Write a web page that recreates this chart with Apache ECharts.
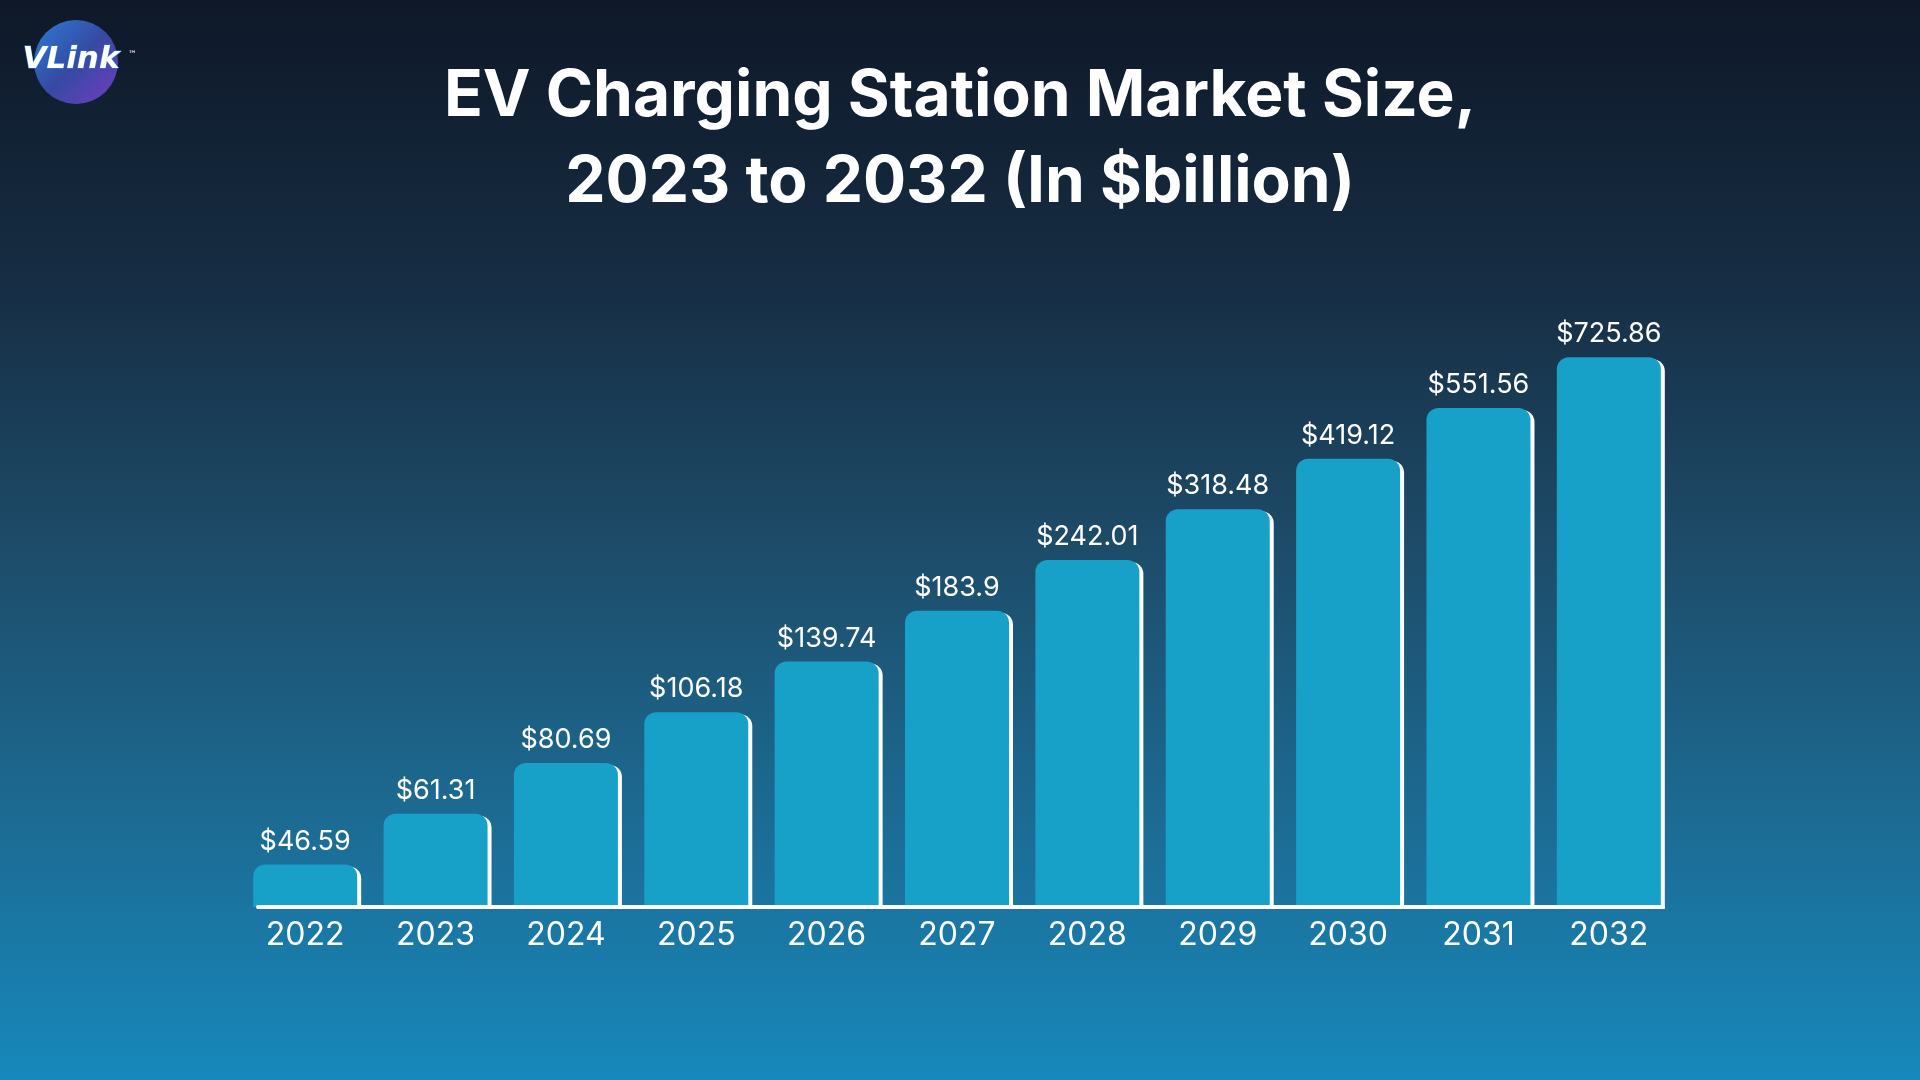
<!DOCTYPE html>
<html>
<head>
<meta charset="utf-8">
<style>
  html, body { margin: 0; padding: 0; width: 1920px; height: 1080px; overflow: hidden; }
  #chart { width: 1920px; height: 1080px; }
</style>
<script src="https://cdn.jsdelivr.net/npm/echarts@6/dist/echarts.min.js"></script>
</head>
<body>
<div id="chart"></div>
<script>
// ---- data ----
const categories = ['2022', '2023', '2024', '2025', '2026', '2027', '2028', '2029', '2030', '2031', '2032'];
const marketSize = [46.59, 61.31, 80.69, 106.18, 139.74, 183.9, 242.01, 318.48, 419.12, 551.56, 725.86];
const titleLines = ['EV Charging Station Market Size,', '2023 to 2032 (In $billion)'];

const chart = echarts.init(document.getElementById('chart'));

const option = {
  animation: false,
  backgroundColor: {
    type: 'linear', x: 0, y: 0, x2: 0, y2: 1,
    colorStops: [
      { offset: 0, color: '#0e1828' },
      { offset: 0.25, color: '#162c42' },
      { offset: 0.5, color: '#1d4b68' },
      { offset: 0.75, color: '#1c6a92' },
      { offset: 1, color: '#1788bb' }
    ]
  },
  title: {
    text: titleLines.join('\n'),
    left: 'center',
    top: 49,
    textStyle: {
      color: '#ffffff',
      fontFamily: 'Inter',
      fontWeight: 'bold',
      fontSize: 64,
      lineHeight: 86
    }
  },
  graphic: [
    {
      type: 'circle',
      shape: { cx: 76, cy: 62, r: 42 },
      style: {
        fill: {
          type: 'linear', x: 0, y: 0, x2: 1, y2: 1,
          colorStops: [
            { offset: 0, color: '#2f86e6' },
            { offset: 0.5, color: '#3a4fb0' },
            { offset: 1, color: '#7c3fcf' }
          ]
        },
        opacity: 0.9
      }
    },
    {
      type: 'text',
      left: 22, top: 44,
      style: {
        text: 'VLink',
        fill: '#ffffff',
        font: 'italic bold 31px "DejaVu Sans"',
        stroke: '#2a7fe0',
        lineWidth: 1
      }
    },
    {
      type: 'text',
      left: 128, top: 50,
      style: { text: '™', fill: '#ffffff', font: '9px "DejaVu Sans"' }
    }
  ],
  grid: [
    { left: 240, width: 1434, top: 298, bottom: 173 },
    { left: 258, right: 257, top: 298, bottom: 173 }
  ],
  xAxis: [
    {
      type: 'category',
      gridIndex: 0,
      data: categories,
      axisLine: { show: false },
      axisTick: { show: false },
      axisLabel: {
        color: '#ffffff',
        fontFamily: 'Inter',
        fontSize: 32,
        lineHeight: 33,
        margin: 12
      }
    },
    {
      type: 'category',
      gridIndex: 1,
      data: categories,
      z: 10,
      axisLine: { show: true, lineStyle: { color: '#ffffff', width: 4 } },
      axisTick: { show: false },
      axisLabel: { show: false }
    }
  ],
  yAxis: [
    {
      type: 'log',
      gridIndex: 0,
      min: 37,
      max: 1000,
      show: false
    },
    {
      type: 'value',
      gridIndex: 1,
      show: false
    }
  ],
  series: [
    {
      type: 'bar',
      xAxisIndex: 0,
      yAxisIndex: 0,
      data: marketSize,
      barWidth: 104,
      clip: true,
      itemStyle: {
        color: '#17a0c8',
        borderRadius: [12, 12, 0, 0],
        shadowColor: '#ffffff',
        shadowBlur: 0,
        shadowOffsetX: 4,
        shadowOffsetY: 2
      },
      label: {
        show: true,
        position: 'top',
        distance: 9,
        color: '#ffffff',
        fontFamily: 'Inter',
        fontSize: 27,
        lineHeight: 28,
        formatter: function (p) { return '$' + p.value; }
      }
    }
  ]
};

chart.setOption(option);
</script>
</body>
</html>
